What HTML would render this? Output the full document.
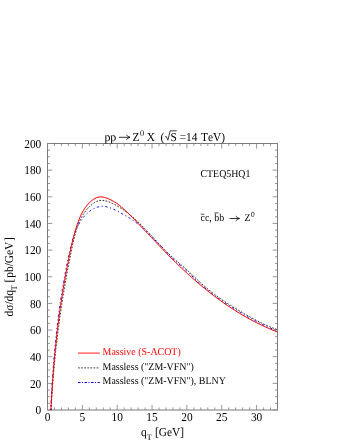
<!DOCTYPE html>
<html><head><meta charset="utf-8"><title>plot</title>
<style>
html,body{margin:0;padding:0;background:#fff;}
svg{display:block;will-change:transform;}
text{font-family:"Liberation Serif",serif;text-rendering:geometricPrecision;font-kerning:none;}
</style></head><body>
<svg width="340" height="440" viewBox="0 0 340 440">
<rect x="0" y="0" width="340" height="440" fill="#fff"/>
<g fill="none" stroke="#7a7a7a" stroke-width="1">
<rect x="47.5" y="143.5" width="230.00" height="266.50"/>
<path d="M47.50,410.0v-5.0 M47.50,143.5v5.0 M54.47,410.0v-2.6 M54.47,143.5v2.6 M61.44,410.0v-2.6 M61.44,143.5v2.6 M68.41,410.0v-2.6 M68.41,143.5v2.6 M75.38,410.0v-2.6 M75.38,143.5v2.6 M82.35,410.0v-5.0 M82.35,143.5v5.0 M89.32,410.0v-2.6 M89.32,143.5v2.6 M96.29,410.0v-2.6 M96.29,143.5v2.6 M103.26,410.0v-2.6 M103.26,143.5v2.6 M110.23,410.0v-2.6 M110.23,143.5v2.6 M117.20,410.0v-5.0 M117.20,143.5v5.0 M124.17,410.0v-2.6 M124.17,143.5v2.6 M131.14,410.0v-2.6 M131.14,143.5v2.6 M138.11,410.0v-2.6 M138.11,143.5v2.6 M145.08,410.0v-2.6 M145.08,143.5v2.6 M152.05,410.0v-5.0 M152.05,143.5v5.0 M159.02,410.0v-2.6 M159.02,143.5v2.6 M165.98,410.0v-2.6 M165.98,143.5v2.6 M172.95,410.0v-2.6 M172.95,143.5v2.6 M179.92,410.0v-2.6 M179.92,143.5v2.6 M186.89,410.0v-5.0 M186.89,143.5v5.0 M193.86,410.0v-2.6 M193.86,143.5v2.6 M200.83,410.0v-2.6 M200.83,143.5v2.6 M207.80,410.0v-2.6 M207.80,143.5v2.6 M214.77,410.0v-2.6 M214.77,143.5v2.6 M221.74,410.0v-5.0 M221.74,143.5v5.0 M228.71,410.0v-2.6 M228.71,143.5v2.6 M235.68,410.0v-2.6 M235.68,143.5v2.6 M242.65,410.0v-2.6 M242.65,143.5v2.6 M249.62,410.0v-2.6 M249.62,143.5v2.6 M256.59,410.0v-5.0 M256.59,143.5v5.0 M263.56,410.0v-2.6 M263.56,143.5v2.6 M270.53,410.0v-2.6 M270.53,143.5v2.6 M277.50,410.0v-2.6 M277.50,143.5v2.6 M47.5,410.00h4.8 M277.5,410.00h-4.8 M47.5,403.34h2.5 M277.5,403.34h-2.5 M47.5,396.68h2.5 M277.5,396.68h-2.5 M47.5,390.01h2.5 M277.5,390.01h-2.5 M47.5,383.35h4.8 M277.5,383.35h-4.8 M47.5,376.69h2.5 M277.5,376.69h-2.5 M47.5,370.02h2.5 M277.5,370.02h-2.5 M47.5,363.36h2.5 M277.5,363.36h-2.5 M47.5,356.70h4.8 M277.5,356.70h-4.8 M47.5,350.04h2.5 M277.5,350.04h-2.5 M47.5,343.38h2.5 M277.5,343.38h-2.5 M47.5,336.71h2.5 M277.5,336.71h-2.5 M47.5,330.05h4.8 M277.5,330.05h-4.8 M47.5,323.39h2.5 M277.5,323.39h-2.5 M47.5,316.73h2.5 M277.5,316.73h-2.5 M47.5,310.06h2.5 M277.5,310.06h-2.5 M47.5,303.40h4.8 M277.5,303.40h-4.8 M47.5,296.74h2.5 M277.5,296.74h-2.5 M47.5,290.07h2.5 M277.5,290.07h-2.5 M47.5,283.41h2.5 M277.5,283.41h-2.5 M47.5,276.75h4.8 M277.5,276.75h-4.8 M47.5,270.09h2.5 M277.5,270.09h-2.5 M47.5,263.43h2.5 M277.5,263.43h-2.5 M47.5,256.76h2.5 M277.5,256.76h-2.5 M47.5,250.10h4.8 M277.5,250.10h-4.8 M47.5,243.44h2.5 M277.5,243.44h-2.5 M47.5,236.78h2.5 M277.5,236.78h-2.5 M47.5,230.11h2.5 M277.5,230.11h-2.5 M47.5,223.45h4.8 M277.5,223.45h-4.8 M47.5,216.79h2.5 M277.5,216.79h-2.5 M47.5,210.12h2.5 M277.5,210.12h-2.5 M47.5,203.46h2.5 M277.5,203.46h-2.5 M47.5,196.80h4.8 M277.5,196.80h-4.8 M47.5,190.14h2.5 M277.5,190.14h-2.5 M47.5,183.47h2.5 M277.5,183.47h-2.5 M47.5,176.81h2.5 M277.5,176.81h-2.5 M47.5,170.15h4.8 M277.5,170.15h-4.8 M47.5,163.49h2.5 M277.5,163.49h-2.5 M47.5,156.82h2.5 M277.5,156.82h-2.5 M47.5,150.16h2.5 M277.5,150.16h-2.5 M47.5,143.50h4.8 M277.5,143.50h-4.8" stroke="#848484" stroke-width="0.85"/>
</g>
<clipPath id="c"><rect x="47.5" y="143.5" width="230.00" height="266.50"/></clipPath>
<g fill="none" clip-path="url(#c)">
<path d="M51.10,410.00 L51.25,407.17 L51.40,404.35 L51.56,401.53 L51.73,398.71 L51.90,395.90 L52.08,393.09 L52.27,390.29 L52.47,387.49 L52.67,384.69 L52.88,381.90 L53.10,379.11 L53.32,376.33 L53.55,373.55 L53.79,370.77 L54.03,368.00 L54.29,365.22 L54.55,362.45 L54.81,359.69 L55.09,356.92 L55.37,354.16 L55.66,351.40 L55.96,348.64 L56.26,345.88 L56.57,343.13 L56.89,340.37 L57.21,337.62 L57.55,334.87 L57.89,332.12 L58.24,329.37 L58.59,326.62 L58.96,323.87 L59.33,321.12 L59.71,318.37 L60.09,315.62 L60.49,312.87 L60.89,310.12 L61.30,307.37 L61.71,304.62 L62.14,301.87 L62.57,299.12 L63.01,296.36 L63.46,293.61 L63.91,290.85 L64.38,288.09 L64.85,285.33 L65.33,282.57 L65.81,279.81 L66.31,277.04 L66.81,274.27 L67.32,271.50 L67.84,268.73 L68.37,265.95 L68.90,263.17 L69.45,260.39 L70.00,257.60 L70.56,254.81 L71.12,252.02 L71.70,249.22 L72.28,246.42 L72.88,243.62 L73.51,240.83 L74.16,238.05 L74.86,235.30 L75.61,232.58 L76.41,229.88 L77.28,227.23 L78.23,224.63 L79.25,222.08 L80.37,219.60 L81.60,217.18 L82.95,214.83 L84.42,212.57 L86.05,210.39 L87.84,208.30 L89.80,206.32 L91.94,204.45 L94.25,202.80 L96.68,201.47 L99.21,200.58 L101.81,200.25 L104.44,200.52 L107.08,201.24 L109.69,202.24 L112.24,203.37 L114.74,204.59 L117.19,205.92 L119.59,207.33 L121.94,208.82 L124.24,210.40 L126.50,212.04 L128.72,213.76 L130.90,215.53 L133.05,217.36 L135.17,219.25 L137.25,221.17 L139.31,223.14 L141.34,225.14 L143.35,227.17 L145.34,229.23 L147.31,231.30 L149.27,233.38 L151.22,235.47 L153.15,237.57 L155.08,239.65 L157.01,241.73 L158.93,243.79 L160.85,245.84 L162.78,247.85 L164.71,249.83 L166.65,251.78 L168.60,253.69 L170.56,255.54 L172.54,257.35 L174.54,259.12 L176.54,260.86 L178.57,262.60 L180.60,264.35 L182.65,266.11 L184.71,267.91 L186.78,269.76 L188.87,271.68 L190.96,273.65 L193.07,275.65 L195.18,277.68 L197.30,279.70 L199.44,281.72 L201.58,283.70 L203.73,285.63 L205.89,287.50 L208.05,289.31 L210.23,291.08 L212.41,292.79 L214.61,294.47 L216.82,296.10 L219.05,297.69 L221.29,299.26 L223.54,300.79 L225.81,302.30 L228.10,303.79 L230.41,305.26 L232.74,306.72 L235.08,308.16 L237.45,309.61 L239.85,311.04 L242.26,312.48 L244.69,313.90 L247.14,315.31 L249.61,316.70 L252.10,318.08 L254.60,319.42 L257.11,320.74 L259.63,322.02 L262.16,323.26 L264.71,324.46 L267.26,325.62 L269.81,326.72 L272.37,327.77 L274.93,328.77 L277.50,329.70" stroke="#303030" stroke-width="0.98" stroke-dasharray="1.8 1.4"/>
<path d="M50.70,410.00 L50.83,407.23 L50.97,404.45 L51.11,401.69 L51.26,398.92 L51.41,396.16 L51.56,393.40 L51.72,390.64 L51.88,387.89 L52.05,385.14 L52.22,382.39 L52.40,379.64 L52.59,376.90 L52.77,374.16 L52.97,371.42 L53.17,368.68 L53.38,365.95 L53.59,363.21 L53.81,360.48 L54.03,357.75 L54.26,355.02 L54.50,352.30 L54.75,349.57 L55.00,346.85 L55.26,344.13 L55.53,341.40 L55.81,338.68 L56.09,335.96 L56.38,333.25 L56.68,330.53 L56.99,327.81 L57.31,325.09 L57.63,322.38 L57.96,319.66 L58.31,316.95 L58.66,314.23 L59.02,311.52 L59.39,308.80 L59.77,306.09 L60.16,303.37 L60.57,300.66 L60.98,297.94 L61.40,295.23 L61.83,292.51 L62.27,289.79 L62.73,287.08 L63.19,284.36 L63.67,281.64 L64.15,278.92 L64.65,276.20 L65.16,273.47 L65.69,270.75 L66.22,268.03 L66.77,265.30 L67.33,262.57 L67.90,259.84 L68.48,257.11 L69.08,254.37 L69.69,251.64 L70.32,248.90 L70.96,246.17 L71.64,243.45 L72.35,240.74 L73.12,238.07 L73.95,235.43 L74.86,232.83 L75.84,230.28 L76.92,227.79 L78.10,225.37 L79.40,223.02 L80.82,220.75 L82.37,218.57 L84.07,216.49 L85.92,214.51 L87.94,212.65 L90.11,210.93 L92.41,209.41 L94.82,208.13 L97.31,207.15 L99.85,206.52 L102.42,206.28 L105.01,206.47 L107.59,207.02 L110.17,207.85 L112.74,208.91 L115.30,210.12 L117.84,211.41 L120.36,212.74 L122.85,214.11 L125.30,215.51 L127.71,216.96 L130.08,218.46 L132.40,219.99 L134.66,221.57 L136.87,223.20 L139.04,224.87 L141.16,226.59 L143.25,228.37 L145.30,230.21 L147.31,232.09 L149.30,234.03 L151.26,236.00 L153.20,238.00 L155.12,240.03 L157.03,242.06 L158.92,244.11 L160.81,246.15 L162.69,248.18 L164.57,250.19 L166.45,252.17 L168.34,254.12 L170.24,256.03 L172.15,257.88 L174.08,259.70 L176.02,261.48 L177.97,263.24 L179.93,265.00 L181.91,266.76 L183.90,268.55 L185.91,270.36 L187.93,272.22 L189.96,274.12 L192.01,276.06 L194.07,278.01 L196.15,279.97 L198.24,281.92 L200.34,283.85 L202.45,285.74 L204.58,287.59 L206.73,289.39 L208.89,291.14 L211.06,292.85 L213.24,294.52 L215.44,296.16 L217.65,297.76 L219.88,299.33 L222.12,300.87 L224.37,302.38 L226.64,303.88 L228.92,305.35 L231.22,306.81 L233.53,308.25 L235.85,309.68 L238.19,311.11 L240.54,312.52 L242.91,313.93 L245.29,315.32 L247.68,316.70 L250.09,318.06 L252.51,319.39 L254.94,320.70 L257.39,321.98 L259.86,323.23 L262.34,324.44 L264.83,325.62 L267.33,326.75 L269.85,327.84 L272.39,328.88 L274.94,329.87 L277.50,330.80" stroke="#0000ff" stroke-width="0.95" stroke-dasharray="2.3 2.6 1.1 2.6" stroke-dashoffset="1"/>
<path d="M50.90,410.00 L51.04,407.14 L51.18,404.28 L51.34,401.43 L51.49,398.58 L51.66,395.73 L51.83,392.88 L52.00,390.04 L52.18,387.20 L52.37,384.36 L52.57,381.53 L52.77,378.70 L52.97,375.87 L53.19,373.04 L53.41,370.22 L53.64,367.39 L53.87,364.57 L54.12,361.75 L54.37,358.94 L54.62,356.12 L54.89,353.31 L55.16,350.49 L55.44,347.68 L55.72,344.87 L56.02,342.06 L56.32,339.25 L56.63,336.45 L56.95,333.64 L57.28,330.84 L57.61,328.03 L57.95,325.23 L58.30,322.43 L58.66,319.62 L59.03,316.82 L59.41,314.02 L59.79,311.21 L60.19,308.41 L60.59,305.61 L61.00,302.81 L61.43,300.00 L61.86,297.20 L62.30,294.40 L62.74,291.59 L63.20,288.79 L63.67,285.98 L64.15,283.17 L64.64,280.36 L65.13,277.56 L65.64,274.75 L66.16,271.93 L66.68,269.12 L67.22,266.31 L67.77,263.49 L68.33,260.67 L68.89,257.85 L69.47,255.03 L70.06,252.21 L70.66,249.38 L71.28,246.56 L71.91,243.74 L72.57,240.94 L73.25,238.15 L73.97,235.38 L74.72,232.63 L75.50,229.91 L76.33,227.22 L77.21,224.56 L78.13,221.95 L79.11,219.37 L80.15,216.85 L81.28,214.38 L82.52,211.96 L83.90,209.61 L85.46,207.32 L87.21,205.10 L89.19,202.95 L91.42,200.90 L93.86,199.08 L96.46,197.69 L99.16,196.92 L101.91,196.91 L104.64,197.48 L107.28,198.33 L109.83,199.38 L112.30,200.61 L114.69,202.01 L117.01,203.56 L119.28,205.24 L121.48,207.04 L123.64,208.92 L125.76,210.88 L127.84,212.89 L129.89,214.94 L131.92,217.00 L133.94,219.07 L135.94,221.14 L137.93,223.21 L139.90,225.28 L141.87,227.35 L143.82,229.41 L145.77,231.48 L147.72,233.54 L149.66,235.60 L151.60,237.65 L153.53,239.70 L155.47,241.75 L157.41,243.80 L159.35,245.84 L161.29,247.87 L163.24,249.90 L165.20,251.92 L167.17,253.94 L169.14,255.95 L171.13,257.95 L173.13,259.95 L175.15,261.93 L177.17,263.91 L179.21,265.88 L181.26,267.83 L183.33,269.78 L185.41,271.71 L187.50,273.64 L189.60,275.55 L191.72,277.45 L193.85,279.33 L195.99,281.20 L198.15,283.05 L200.32,284.89 L202.51,286.72 L204.71,288.52 L206.92,290.31 L209.15,292.08 L211.39,293.83 L213.64,295.57 L215.91,297.28 L218.19,298.97 L220.49,300.65 L222.80,302.30 L225.13,303.93 L227.47,305.53 L229.83,307.12 L232.20,308.68 L234.59,310.21 L236.99,311.72 L239.40,313.21 L241.83,314.67 L244.28,316.10 L246.74,317.50 L249.22,318.88 L251.71,320.23 L254.22,321.54 L256.74,322.83 L259.28,324.09 L261.83,325.32 L264.40,326.51 L266.99,327.68 L269.59,328.81 L272.21,329.91 L274.85,330.97 L277.50,332.00" stroke="#ff0000" stroke-width="1.0"/>
</g>
<g fill="#000">
<text transform="translate(41.30,414.30) scale(0.94,1)" font-size="12.1" text-anchor="end">0</text>
<text transform="translate(41.30,387.65) scale(0.94,1)" font-size="12.1" text-anchor="end">20</text>
<text transform="translate(41.30,361.00) scale(0.94,1)" font-size="12.1" text-anchor="end">40</text>
<text transform="translate(41.30,334.35) scale(0.94,1)" font-size="12.1" text-anchor="end">60</text>
<text transform="translate(41.30,307.70) scale(0.94,1)" font-size="12.1" text-anchor="end">80</text>
<text transform="translate(41.30,281.05) scale(0.94,1)" font-size="12.1" text-anchor="end">100</text>
<text transform="translate(41.30,254.40) scale(0.94,1)" font-size="12.1" text-anchor="end">120</text>
<text transform="translate(41.30,227.75) scale(0.94,1)" font-size="12.1" text-anchor="end">140</text>
<text transform="translate(41.30,201.10) scale(0.94,1)" font-size="12.1" text-anchor="end">160</text>
<text transform="translate(41.30,174.45) scale(0.94,1)" font-size="12.1" text-anchor="end">180</text>
<text transform="translate(41.30,147.80) scale(0.94,1)" font-size="12.1" text-anchor="end">200</text>
<text transform="translate(47.50,420.90) scale(0.94,1)" font-size="12.1" text-anchor="middle">0</text>
<text transform="translate(82.35,420.90) scale(0.94,1)" font-size="12.1" text-anchor="middle">5</text>
<text transform="translate(117.20,420.90) scale(0.94,1)" font-size="12.1" text-anchor="middle">10</text>
<text transform="translate(152.05,420.90) scale(0.94,1)" font-size="12.1" text-anchor="middle">15</text>
<text transform="translate(186.89,420.90) scale(0.94,1)" font-size="12.1" text-anchor="middle">20</text>
<text transform="translate(221.74,420.90) scale(0.94,1)" font-size="12.1" text-anchor="middle">25</text>
<text transform="translate(256.59,420.90) scale(0.94,1)" font-size="12.1" text-anchor="middle">30</text>
<text transform="translate(104.40,140.50) scale(0.985,1)" font-size="12.1">pp</text>
<path d="M119.2,137.3H129.6 M126.6,135.20000000000002Q128.2,136.8 130.0,137.3Q128.2,137.8 126.6,139.4" fill="none" stroke="#000" stroke-width="0.8" stroke-linecap="round" stroke-linejoin="round"/>
<text transform="translate(132.60,140.50) scale(0.94,1)" font-size="12.1">Z</text>
<text transform="translate(139.90,135.90) scale(0.94,1)" font-size="8.8">0</text>
<text transform="translate(146.70,140.50) scale(0.94,1)" font-size="12.1">X</text>
<text transform="translate(160.40,140.50) scale(0.94,1)" font-size="12.1">(</text>
<path d="M165.2,136.9L166.2,136.3L167.9,140.2L170.2,130.8H176.7" stroke="#000" stroke-width="0.75" fill="none"/>
<text transform="translate(170.60,140.50) scale(0.94,1)" font-size="12.1">S</text>
<text transform="translate(179.70,140.50) scale(0.94,1)" font-size="12.1">=14</text>
<text transform="translate(201.10,140.50) scale(0.94,1)" font-size="12.1">TeV)</text>
<text transform="translate(200.50,177.00) scale(0.94,1)" font-size="10.5">CTEQ5HQ1</text>
<text transform="translate(200.50,221.10) scale(0.94,1)" font-size="10.5">cc,</text>
<text transform="translate(214.30,221.10) scale(0.94,1)" font-size="10.5">bb</text>
<path d="M200.8,214.2H204.3 M214.6,212.9H218.4" stroke="#000" stroke-width="0.7" fill="none"/>
<path d="M229.9,218.5H239.0 M236.0,216.4Q237.6,218.0 239.4,218.5Q237.6,219.0 236.0,220.6" fill="none" stroke="#000" stroke-width="0.8" stroke-linecap="round" stroke-linejoin="round"/>
<text transform="translate(244.50,221.10) scale(0.94,1)" font-size="10.5">Z</text>
<text transform="translate(251.00,216.90) scale(0.94,1)" font-size="7.8">0</text>
<text transform="translate(102.60,355.30) scale(0.947,1)" font-size="10.5" fill="#ff0000">Massive (S-ACOT)</text>
<text transform="translate(102.60,369.80) scale(0.947,1)" font-size="10.5">Massless ("ZM-VFN")</text>
<text transform="translate(102.60,384.30) scale(0.947,1)" font-size="10.5">Massless ("ZM-VFN"), BLNY</text>
<text transform="translate(141.00,436.00) scale(0.94,1)" font-size="12.1">q</text>
<text transform="translate(146.80,439.60) scale(0.94,1)" font-size="8.6">T</text>
<text transform="translate(154.90,436.00) scale(0.94,1)" font-size="12.1">[GeV]</text>
<text transform="translate(12.75,316.40) rotate(-90) scale(0.94,1)" font-size="12.1">dσ/dq</text>
<text transform="translate(16.90,290.30) rotate(-90) scale(0.94,1)" font-size="8.6">T</text>
<text transform="translate(12.75,282.40) rotate(-90) scale(0.94,1)" font-size="12.1">[</text>
<text transform="translate(12.75,277.70) rotate(-90) scale(0.94,1)" font-size="12.1">pb/GeV</text>
<text transform="translate(12.75,241.10) rotate(-90) scale(0.94,1)" font-size="12.1">]</text>
</g>
<g fill="none">
<path d="M78,353.1H99.8" stroke="#ff0000" stroke-width="0.9"/>
<path d="M78,367.9H99.8" stroke="#444" stroke-width="1.0" stroke-dasharray="1.8 1.3"/>
<path d="M78,382.5H99.8" stroke="#0000ff" stroke-width="1" stroke-dasharray="2.5 1.5 1 1.5"/>
</g>
</svg>
</body></html>
